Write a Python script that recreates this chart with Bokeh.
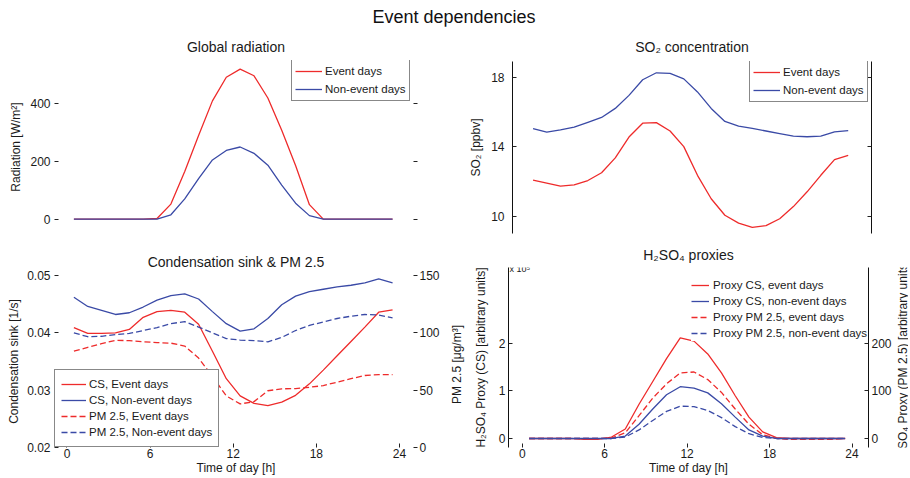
from bokeh.plotting import figure
from bokeh.models import (Range1d, LinearAxis, Legend, LegendItem, Label, Div,
                          FixedTicker, PrintfTickFormatter, CustomJSTickFormatter)
from bokeh.layouts import column, row
from bokeh.embed import file_html
from bokeh.resources import INLINE

# ---------------- data ----------------
hours = [0.5, 1.5, 2.5, 3.5, 4.5, 5.5, 6.5, 7.5, 8.5, 9.5, 10.5, 11.5,
         12.5, 13.5, 14.5, 15.5, 16.5, 17.5, 18.5, 19.5, 20.5, 21.5, 22.5, 23.5]

rad_event = [0, 0, 0, 0, 0, 0, 2, 52, 165, 290, 410, 492,
             520, 497, 420, 308, 186, 50, 0, 0, 0, 0, 0, 0]
rad_nonevent = [0, 0, 0, 0, 0, 0, 0, 15, 70, 140, 205, 238,
                250, 228, 187, 118, 55, 12, 0, 0, 0, 0, 0, 0]

so2_event = [12.07, 11.9, 11.73, 11.8, 12.05, 12.5, 13.35, 14.55, 15.35, 15.38, 14.9, 14.0,
             12.35, 11.0, 10.05, 9.6, 9.35, 9.45, 9.85, 10.55, 11.4, 12.35, 13.25, 13.5]
so2_nonevent = [15.03, 14.84, 14.96, 15.12, 15.4, 15.68, 16.2, 16.95, 17.85, 18.25, 18.22, 17.9,
                17.15, 16.2, 15.45, 15.18, 15.05, 14.9, 14.75, 14.6, 14.57, 14.6, 14.85, 14.92]

cs_event = [0.0409, 0.0399, 0.0399, 0.0400, 0.0406, 0.0427, 0.0437, 0.0439, 0.0436, 0.0415, 0.0368, 0.0320,
            0.0290, 0.0277, 0.0273, 0.0279, 0.0291, 0.0311, 0.0335, 0.0360, 0.0385, 0.0410, 0.0436, 0.0440]
cs_nonevent = [0.0462, 0.0446, 0.0439, 0.0432, 0.0435, 0.0445, 0.0457, 0.0465, 0.0468, 0.0459, 0.0437, 0.0416,
               0.0403, 0.0407, 0.0425, 0.0449, 0.0464, 0.0472, 0.0476, 0.0480, 0.0483, 0.0487, 0.0494, 0.0487]
pm_event = [84, 87.3, 90.5, 93.5, 93.2, 92.2, 91.5, 91, 88.5, 78, 62, 45,
            38, 40, 49.5, 51.2, 51.3, 52.5, 54, 57, 60, 62.8, 63.5, 63.5]
pm_nonevent = [100, 96.6, 97, 98.5, 99.5, 102, 104.5, 108, 109.8, 105, 100, 95,
               93.7, 93.2, 92.2, 96, 102, 106.5, 109.5, 112.5, 114.5, 116, 115.5, 113]

proxy_cs_event = [0, 0, 0, 0, -0.02, -0.02, 0.03, 0.2, 0.72, 1.2, 1.68, 2.12,
                  2.05, 1.78, 1.38, 0.9, 0.45, 0.14, 0.02, 0, 0, 0, 0, 0]
proxy_cs_nonevent = [0, 0, 0, 0, 0, 0, 0, 0.05, 0.3, 0.62, 0.92, 1.09,
                     1.06, 0.96, 0.73, 0.45, 0.18, 0.05, 0, 0, 0, 0, 0, 0]
proxy_pm_event = [0, 0, 0, 0, 0, 0, 1, 12, 48, 85, 115, 138,
                  140, 124, 97, 62, 30, 8, 0, -2, -2, -2, -2, 0]
proxy_pm_nonevent = [0, 0, 0, 0, 0, 0, 0, 3, 18, 38, 57, 68,
                     67, 59, 44, 25, 10, 2, 0, 0, 0, 0, 0, 0]

x_ticks = [0, 6, 12, 18, 24]

# ---------------- style ----------------
FONT = "Liberation Sans"
RED = "#ee2b2b"
BLUE = "#3a4aa6"
TXT = "#1a1a1a"
EMPTY = CustomJSTickFormatter(code="return ''")


def base_fig(width, height, xr, yr, mbl, mbr, mbt, mbb, title, tstand, xloc="below"):
    p = figure(width=width, height=height, x_range=Range1d(*xr), y_range=Range1d(*yr),
               output_backend="svg", toolbar_location=None, x_axis_location=xloc,
               min_border_left=mbl, min_border_right=mbr,
               min_border_top=mbt, min_border_bottom=mbb)
    p.grid.visible = False
    p.outline_line_color = None
    p.title.text = title
    p.title.text_font = FONT
    p.title.text_font_size = "14px"
    p.title.text_font_style = "normal"
    p.title.text_color = TXT
    p.title.align = "center"
    p.title.standoff = tstand
    return p


def cfg(ax, ticks, labels=True, line=False, label=None, fmt=None, lstand=4, astand=4):
    ax.ticker = FixedTicker(ticks=ticks)
    ax.major_tick_in = 4
    ax.major_tick_out = 0
    ax.minor_tick_line_color = None
    ax.major_tick_line_color = "#222222"
    ax.axis_line_color = "#111111" if line else None
    ax.major_label_text_font = FONT
    ax.major_label_text_font_size = "12px"
    ax.major_label_text_color = TXT
    ax.major_label_standoff = lstand if labels else 0
    if not labels:
        ax.formatter = EMPTY
    elif fmt:
        ax.formatter = PrintfTickFormatter(format=fmt)
    if label:
        ax.axis_label = label
        ax.axis_label_text_font = FONT
        ax.axis_label_text_font_size = "12px"
        ax.axis_label_text_font_style = "normal"
        ax.axis_label_text_color = TXT
        ax.axis_label_standoff = astand


def side_title(text, width, height, xoff=0, yoff=0):
    # narrow strip holding a right-hand axis title that reads bottom-to-top
    f = figure(width=width, height=height, x_range=Range1d(0, 1), y_range=Range1d(0, 1),
               output_backend="svg", toolbar_location=None, title=None,
               x_axis_location=None, y_axis_location=None,
               min_border_left=0, min_border_right=0, min_border_top=0, min_border_bottom=0)
    f.grid.visible = False
    f.outline_line_color = None
    f.add_layout(Label(x=0.5, y=0.5, x_offset=xoff, y_offset=yoff, text=text, angle=90,
                       angle_units="deg", text_align="center", text_baseline="middle",
                       text_font=FONT, text_font_size="12px", text_color=TXT))
    return f


def legend(items, loc, border=True, pad=2, spacing=2, gw=27, gh=16, lh=16, stand=3):
    lg = Legend(items=[LegendItem(label=l, renderers=[r]) for l, r in items],
                location=loc, margin=0, padding=pad, spacing=spacing,
                glyph_width=gw, glyph_height=gh, label_height=lh, label_standoff=stand,
                label_text_font=FONT, label_text_font_size="11.5px", label_text_color=TXT,
                border_line_color="#111111" if border else None,
                background_fill_color="white", background_fill_alpha=1.0)
    return lg


XL = (-0.9, 25.3)
XR = (-1.0, 25.2)

# ---------------- top-left: Global radiation ----------------
p1 = base_fig(466, 215, XL, (-50, 550), 54, 49, 34, 8, "Global radiation", 12, xloc=None)
cfg(p1.yaxis[0], [0, 200, 400], label="Radiation [W/m²]", lstand=4, astand=4)
ax = LinearAxis(); cfg(ax, [0, 200, 400], labels=False); p1.add_layout(ax, "right")
r_a = p1.line(hours, rad_event, line_color=RED, line_width=1.3)
r_b = p1.line(hours, rad_nonevent, line_color=BLUE, line_width=1.3)
p1.add_layout(legend([("Event days", r_a), ("Non-event days", r_b)], (237, 132), gw=27, pad=3))

# ---------------- top-right: SO2 ----------------
p2 = base_fig(442, 210, XR, (9, 18.9), 42, 37, 35, 3, "SO₂ concentration", 13, xloc=None)
cfg(p2.yaxis[0], [10, 14, 18], line=True, label="SO₂ [ppbv]", lstand=8, astand=5)
ax = LinearAxis(); cfg(ax, [10, 14, 18], labels=False, line=True); p2.add_layout(ax, "right")
s_a = p2.line(hours, so2_event, line_color=RED, line_width=1.3)
s_b = p2.line(hours, so2_nonevent, line_color=BLUE, line_width=1.3)
p2.add_layout(legend([("Event days", s_a), ("Non-event days", s_b)], (237, 131), gw=27, pad=3))

# ---------------- bottom-left: CS & PM2.5 ----------------
p3 = base_fig(450, 236, XL, (0.02, 0.05), 54, 33, 34, 29, "Condensation sink & PM 2.5", 12)
p3.extra_y_ranges = {"pm": Range1d(0, 150)}
cfg(p3.xaxis[0], x_ticks, label="Time of day [h]", lstand=1, astand=0)
cfg(p3.yaxis[0], [0.02, 0.03, 0.04, 0.05], fmt="%.2f", label="Condensation sink [1/s]",
    lstand=4, astand=3)
ax = LinearAxis(y_range_name="pm")
cfg(ax, [0, 50, 100, 150], lstand=2)
p3.add_layout(ax, "right")
c_a = p3.line(hours, cs_event, line_color=RED, line_width=1.3)
c_b = p3.line(hours, cs_nonevent, line_color=BLUE, line_width=1.3)
c_c = p3.line(hours, pm_event, y_range_name="pm", line_color=RED, line_width=1.3, line_dash="6 3")
c_d = p3.line(hours, pm_nonevent, y_range_name="pm", line_color=BLUE, line_width=1.3, line_dash="6 3")
p3.add_layout(legend([("CS, Event days", c_a), ("CS, Non-event days", c_b),
                      ("PM 2.5, Event days", c_c), ("PM 2.5, Non-event days", c_d)],
                     (0, 0), pad=6, spacing=0, gw=25, stand=3))
t3 = side_title("PM 2.5 [μg/m³]", 16, 236, xoff=-2, yoff=-3)

# ---------------- bottom-right: H2SO4 proxies ----------------
p4 = base_fig(428, 241, XR, (-0.19, 3.6), 42, 23, 31, 29, "H₂SO₄ proxies", 9)
p4.extra_y_ranges = {"pm": Range1d(-19, 360)}
cfg(p4.xaxis[0], x_ticks, label="Time of day [h]", lstand=1, astand=0)
cfg(p4.yaxis[0], [0, 1, 2], line=True, label="H₂SO₄ Proxy (CS) [arbitrary units]",
    lstand=3, astand=8)
ax = LinearAxis(y_range_name="pm")
cfg(ax, [0, 100, 200], line=True, lstand=3)
p4.add_layout(ax, "right")
q_c = p4.line(hours, proxy_pm_event, y_range_name="pm", line_color=RED, line_width=1.3, line_dash="6 3")
q_d = p4.line(hours, proxy_pm_nonevent, y_range_name="pm", line_color=BLUE, line_width=1.3, line_dash="6 3")
q_a = p4.line(hours, proxy_cs_event, line_color=RED, line_width=1.3)
q_b = p4.line(hours, proxy_cs_nonevent, line_color=BLUE, line_width=1.3)
p4.add_layout(legend([("Proxy CS, event days", q_a), ("Proxy CS, non-event days", q_b),
                      ("Proxy PM 2.5, event days", q_c), ("Proxy PM 2.5, non-event days", q_d)],
                     (183, 106), border=False, pad=1, spacing=0, gw=18, stand=4))
p4.add_layout(Label(x=XR[0], y=3.6, text="x 10⁵", text_font=FONT, text_font_size="9px",
                    text_color=TXT, text_baseline="middle", text_align="left",
                    x_offset=1, y_offset=-1))
t4 = side_title("H₂SO₄ Proxy (PM 2.5) [arbitrary units]", 14, 241, xoff=1, yoff=-4)

# ---------------- layout ----------------
title = Div(text='<div style="width:908px;text-align:center;font-family:\'Liberation Sans\';'
                 'font-size:18px;line-height:20px;padding-top:7px;color:#111;">'
                 'Event dependencies</div>',
            width=908, height=26, margin=0)

left_col = column(p1, row(p3, t3, margin=0), margin=0)
right_col = column(p2, row(p4, t4, margin=0), margin=0)
layout = column(title, row(left_col, right_col, margin=0), margin=0)
open("out.html", "w").write(file_html(layout, INLINE))
